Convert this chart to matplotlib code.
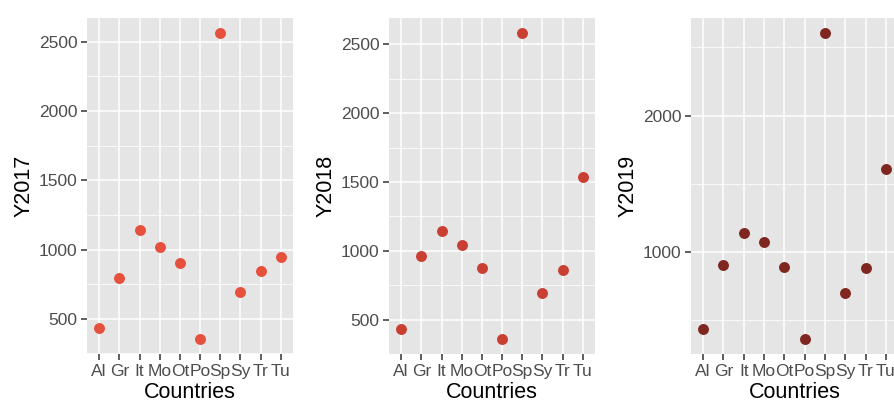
import numpy as np
import matplotlib
matplotlib.use("Agg")
import matplotlib.pyplot as plt
from matplotlib.ticker import FixedLocator

plt.rcParams['font.family'] = ['Liberation Sans', 'DejaVu Sans']

# data
countries = ["Al", "Gr", "It", "Mo", "Ot", "Po", "Sp", "Sy", "Tr", "Tu"]
y2017 = [430, 792, 1141, 1021, 905, 356, 2561, 690, 843, 947]
y2018 = [430, 964, 1142, 1043, 874, 362, 2580, 691, 862, 1536]
y2019 = [435, 905, 1139, 1073, 890, 362, 2604, 694, 880, 1609]

series = [("Y2017", y2017, "#E5513C"),
          ("Y2018", y2018, "#C93F31"),
          ("Y2019", y2019, "#7E261F")]

major_ticks = [[500, 1000, 1500, 2000, 2500],
               [500, 1000, 1500, 2000, 2500],
               [1000, 2000]]
minor_ticks = [[250, 750, 1250, 1750, 2250],
               [250, 750, 1250, 1750, 2250],
               [500, 1500, 2500]]

W, H = 895, 403
fig = plt.figure(figsize=(W / 100, H / 100), dpi=100)

# panel boxes in pixels: left, right (third one runs off the edge)
boxes = [(87, 293), (389, 595), (691, 898)]
top, bottom = 18, 354

for i, (name, vals, color) in enumerate(series):
    left, right = boxes[i]
    ax = fig.add_axes([left / W, (H - bottom) / H, (right - left) / W, (bottom - top) / H])
    ax.set_facecolor("#E5E5E5")
    for s in ax.spines.values():
        s.set_visible(False)

    x = np.arange(len(countries))
    lo, hi = min(vals), max(vals)
    pad = (hi - lo) * 0.05
    ax.set_ylim(lo - pad, hi + pad)
    ax.set_xlim(-0.6, len(countries) - 0.4)

    ax.yaxis.set_major_locator(FixedLocator(major_ticks[i]))
    ax.yaxis.set_minor_locator(FixedLocator(minor_ticks[i]))
    ax.set_xticks(x)
    ax.set_xticklabels(countries)

    ax.grid(True, which="major", color="white", linewidth=1.1)
    ax.grid(True, which="minor", axis="y", color="white", linewidth=0.55)
    ax.set_axisbelow(True)

    ax.scatter(x, vals, s=62, color=color, zorder=3, linewidths=0)

    ax.tick_params(axis="both", which="major", length=4.5, width=1.1,
                   color="#333333", labelcolor="#4D4D4D", labelsize=12.5, pad=2.5)
    ax.tick_params(axis="y", which="minor", length=0)

    ax.set_xlabel("Countries", fontsize=15.5, color="black", labelpad=2.5)
    ax.set_ylabel(name, fontsize=15.5, color="black", labelpad=3)

fig.savefig("out.png", dpi=100)
